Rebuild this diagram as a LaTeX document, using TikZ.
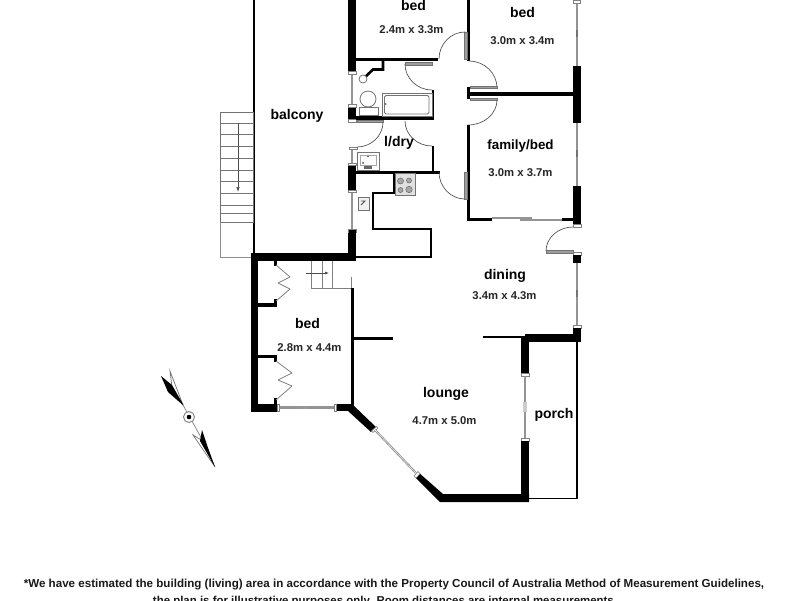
\documentclass[tikz,border=0pt]{standalone}
\usepackage{fontspec}
\setmainfont{Liberation Sans}
\usetikzlibrary{calc,arrows.meta}
\tikzset{
  wall/.style={fill=black,draw=none},
  thinwall/.style={draw=black,line width=2.6pt,line cap=butt,line join=miter},
  hair/.style={draw=black,line width=1.1pt},
  win/.style={draw=black!42,line width=2pt},
  wincap/.style={fill=white,draw=black!50,line width=.6pt},
  leaf/.style={fill=black!38,draw=black!55,line width=.3pt},
  doorarc/.style={draw=black!65,line width=.7pt},
  fixture/.style={draw=black!55,line width=.8pt,fill=white},
  stair/.style={draw=black!55,line width=1pt},
  room/.style={font=\bfseries\fontsize{14}{16}\selectfont,inner sep=0pt},
  dims/.style={font=\bfseries\fontsize{11.3}{13}\selectfont,inner sep=0pt,text=black!85},
  foot/.style={font=\bfseries\fontsize{11.6}{13}\selectfont,inner sep=0pt,text=black!90,anchor=base}
}
\newcommand\qa[3]{\draw[doorarc] (#1) .. controls ($(#1)!.55!(#2)$) and ($(#3)!.55!(#2)$) .. (#3);}
\begin{document}
\begin{tikzpicture}[x=1pt,y=-1pt]
\useasboundingbox (0,0) rectangle (800,600);
\clip (0,0) rectangle (800,600);
\fill[white] (0,0) rectangle (800,600);
% balcony and outside stair
\draw[hair] (254,0) -- (254,254);
\draw[stair] (220,112) rectangle (253,222);
\foreach \y in {123,134,146,158,170,181,193,205,213}{\draw[stair] (220,\y) -- (253,\y);}
\draw[draw=black!45,line width=.7pt] (220,222) -- (220,257) -- (251,257);
\draw[draw=black!70,line width=.7pt,-{Latex[length=5pt,width=3.5pt]}] (238,123) -- (238,192);
% west wall
\fill[wall] (348,0) rectangle (356,72);
\fill[wall] (348,105) rectangle (356,121);
\fill[wall] (348,163) rectangle (356,192);
\fill[wall] (348,230) rectangle (356,254);
\draw[win] (352,72) -- (352,105);
\draw[win] (352,148) -- (352,163);
\draw[win] (352,192) -- (352,230);
\draw[wincap] (348,71) rectangle (356,74);
\draw[wincap] (348,104) rectangle (356,107);
\draw[wincap] (348,119) rectangle (356,122);
\draw[wincap] (349,147) rectangle (357,149.5);
\draw[wincap] (348,163) rectangle (356,165.5);
\draw[wincap] (348,190) rectangle (356,192.5);
\draw[wincap] (348,229.5) rectangle (356,232);
% internal walls (wet area)
\fill[wall] (356,58) rectangle (438,61);
\draw[thinwall] (383,60) -- (383,69.5) -- (373,69.5) -- (362,80);
\draw[thinwall] (433,90) -- (433,118);
\fill[wall] (356,116) rectangle (434,119.5);
\draw[thinwall] (433,146) -- (433,172);
\fill[wall] (356,170.5) rectangle (440,173.5);
\fill[leaf] (405,62.5) rectangle (432,65);
\fill[leaf] (357,120) rectangle (383,122.5);
\qa{405,64}{405,90}{432,90}
\qa{383,122}{383,147}{357,147}
\qa{405,121}{405,146}{432,146}
% fixtures
\draw[fixture] (363,79) circle (4);
\draw[fixture] (368,99) circle (8);
\draw[fixture] (359,107) rectangle (378,115.5);
\draw[fixture] (382,93) rectangle (432,116);
\draw[fixture,rounded corners=1.5pt] (384.5,95.5) rectangle (429,114);
\fill[black!70] (385.8,104) circle (.9);
\draw[fixture] (357,152) rectangle (379,170);
\draw[fixture,draw=black!35] (360,155) rectangle (376,165);
\fill[black!70] (368,156.5) circle (.8);
\fill[black!60] (364,166) rectangle (372,169);
\fill[black!70] (363,163) circle (1);
\draw[fixture,fill=black!12] (395,173) rectangle (415,195);
\draw[draw=black!60,fill=black!35,line width=.5pt] (400.5,181) circle (3);
\draw[draw=black!60,fill=black!35,line width=.5pt] (409,180.5) circle (2.5);
\draw[draw=black!60,fill=black!35,line width=.5pt] (400.5,190) circle (2.5);
\draw[draw=black!60,fill=black!35,line width=.5pt] (409,189.5) circle (3.2);
\draw[fixture,fill=black!6] (358,197) rectangle (369,210);
\draw[draw=black!70,line width=.8pt] (361,201) -- (365,201) -- (361,205);
% kitchen bench
\draw[thinwall] (355,257) -- (431,257) -- (431,229) -- (373,229) -- (373,193) -- (394,193) -- (394,172);
% north rooms
\fill[wall] (467,0) rectangle (470,61);
\fill[leaf] (464,32) rectangle (467,59);
\qa{465,32}{439,32}{439,59}
\qa{469,61}{497,61}{497,88}
\fill[leaf] (470,86) rectangle (497,88.5);
\fill[wall] (467,87) rectangle (470,99);
\fill[wall] (470,92) rectangle (574,95.5);
\fill[leaf] (470,98.5) rectangle (497,100.5);
\qa{497,100}{497,125}{468,125}
\fill[wall] (467,125) rectangle (470,221);
\fill[leaf] (464,172) rectangle (467,199);
\qa{439,172}{439,199}{465,199}
\fill[wall] (467,217.5) rectangle (492,221);
\draw[win,line width=1.6pt] (492,218) -- (532,218);
\draw[win,line width=2.2pt] (520,220) -- (562,220);
\fill[wall] (562,217.5) rectangle (574,221);
% east wall
\draw[win] (576.5,0) -- (576.5,66);
\draw[win] (576.5,123) -- (576.5,186);
\draw[win] (576.5,263) -- (576.5,325);
\fill[black!55] (575.5,30) rectangle (577.5,37);
\fill[black!55] (575.5,150) rectangle (577.5,157);
\fill[black!55] (575.5,290) rectangle (577.5,297);
\draw[wincap] (573,0) rectangle (580,3);
\fill[wall] (573,66) rectangle (581,123);
\fill[wall] (573,186) rectangle (581,226);
\draw[wincap] (573,224.5) rectangle (581,227);
\draw[wincap] (573,252) rectangle (581,255);
\fill[wall] (573,255) rectangle (581,263);
\draw[wincap] (573,325) rectangle (581,328);
\qa{573,227}{546,227}{546,251}
\fill[leaf] (546.5,250.5) rectangle (573,253);
% south part
\fill[wall] (573,328) rectangle (581,342);
\fill[wall] (525,334) rectangle (581,342);
\draw[thinwall] (483,337) -- (525,337);
\fill[wall] (521,336) rectangle (529,375);
\draw[wincap] (521,373) rectangle (529,376);
\draw[win] (524.5,376) -- (524.5,439);
\fill[black!20] (523,402) rectangle (526.5,412);
\draw[wincap] (521,438) rectangle (529,441);
\fill[wall] (521,441) rectangle (529,502);
\fill[wall] (415,477) -- (418,472) -- (443,494) -- (529,494) -- (529,502) -- (440,502) -- cycle;
\draw[hair] (577,342) -- (577,498.5) -- (529,498.5);
% bed / stair block
\fill[wall] (251,253) rectangle (356,261);
\fill[wall] (349,230) rectangle (356,261);
\fill[wall] (251,253) rectangle (258,412);
\fill[wall] (258,303) rectangle (277,306.5);
\fill[wall] (258,355) rectangle (277,358);
\fill[wall] (251,403.5) rectangle (277,412);
\fill[wall] (274,261) rectangle (277,266);
\fill[wall] (274,299) rectangle (277,303);
\fill[wall] (274,358) rectangle (277,362);
\fill[wall] (274,398) rectangle (277,404);
\draw[draw=black!50,line width=.8pt,line join=round] (276,265) -- (290,277) -- (278,283) -- (290,289) -- (276,301);
\draw[draw=black!50,line width=.8pt,line join=round] (276,361) -- (292,373) -- (278,380) -- (292,386) -- (276,400);
\draw[draw=black!50,line width=.8pt] (311,261) -- (311,288) -- (351,288);
\draw[draw=black!50,line width=.8pt] (322,261) -- (322,288);
\draw[draw=black!50,line width=.8pt] (332,261) -- (332,288);
\draw[draw=black!50,line width=.8pt] (351,277) -- (351,288);
\draw[draw=black!70,line width=.6pt,-{Latex[length=4pt,width=3pt]}] (306,273) -- (329,273);
\fill[wall] (351,288) rectangle (354,404);
\fill[wall] (354,337) rectangle (393,339.5);
\draw[wincap] (277,404) rectangle (279.5,411);
\draw[win,line width=2.4pt] (279.5,407.5) -- (334,407.5);
\fill[black!40] (303,406.5) rectangle (308,408.5);
\draw[wincap] (334,404) rectangle (336.5,411);
\fill[wall] (336.5,403.5) rectangle (354,411);
\fill[wall] (352,404) -- (376,427) -- (371,432) -- (348,411) -- cycle;
\draw[wincap] (371.5,431) -- (376.5,426.5) -- (378,428) -- (373,432.5) -- cycle;
\draw[draw=black!50,line width=2pt] (375,430) -- (416,473);
\draw[draw=white,line width=.5pt] (375,430) -- (416,473);
\draw[wincap] (414,476) -- (418,471.5) -- (420,473.5) -- (416,478) -- cycle;
% compass
\draw[fill=white,draw=black!55,line width=.7pt] (170,371) -- (183,405) -- (172,387) -- cycle;
\fill[black] (161,376) -- (172,385) -- (184,406) -- (168,392) -- cycle;
\draw[draw=black!50,line width=.7pt] (183,405) -- (208,450);
\draw[fill=white,draw=black!55,line width=.7pt] (193,435) -- (215,467) -- (203,441) -- cycle;
\fill[black] (202,430) -- (207,445) -- (215,467) -- (200,441) -- cycle;
\draw[draw=black!50,fill=white,line width=.9pt] (189,417) circle (5.5);
\fill[black] (189,417) circle (2.3);
% labels
\node[room] (t1) at (413.5,5) {bed};
\node[dims] (d1) at (411.5,30) {2.4m x 3.3m};
\node[room] (t2) at (522.5,12) {bed};
\node[dims] (d2) at (522.5,41) {3.0m x 3.4m};
\node[room] (t3) at (297,116) {balcony};
\node[room] (t4) at (399,143) {l/dry};
\node[room,font=\bfseries\fontsize{13.4}{16}\selectfont] (t5) at (520.5,146) {family/bed};
\node[dims] (d5) at (520.5,173) {3.0m x 3.7m};
\node[room] (t6) at (505,276) {dining};
\node[dims] (d6) at (504.5,296) {3.4m x 4.3m};
\node[room] (t7) at (307.5,323) {bed};
\node[dims] (d7) at (309.5,348) {2.8m x 4.4m};
\node[room] (t8) at (446,394) {lounge};
\node[dims] (d8) at (444.5,421) {4.7m x 5.0m};
\node[room] (t9) at (554,415) {porch};
\node[foot] (f1) at (394,587) {*We have estimated the building (living) area in accordance with the Property Council of Australia Method of Measurement Guidelines,};
\node[foot,font=\bfseries\fontsize{11.45}{13}\selectfont] (f2) at (385,604) {the plan is for illustrative purposes only. Room distances are internal measurements.};
\end{tikzpicture}
\end{document}
